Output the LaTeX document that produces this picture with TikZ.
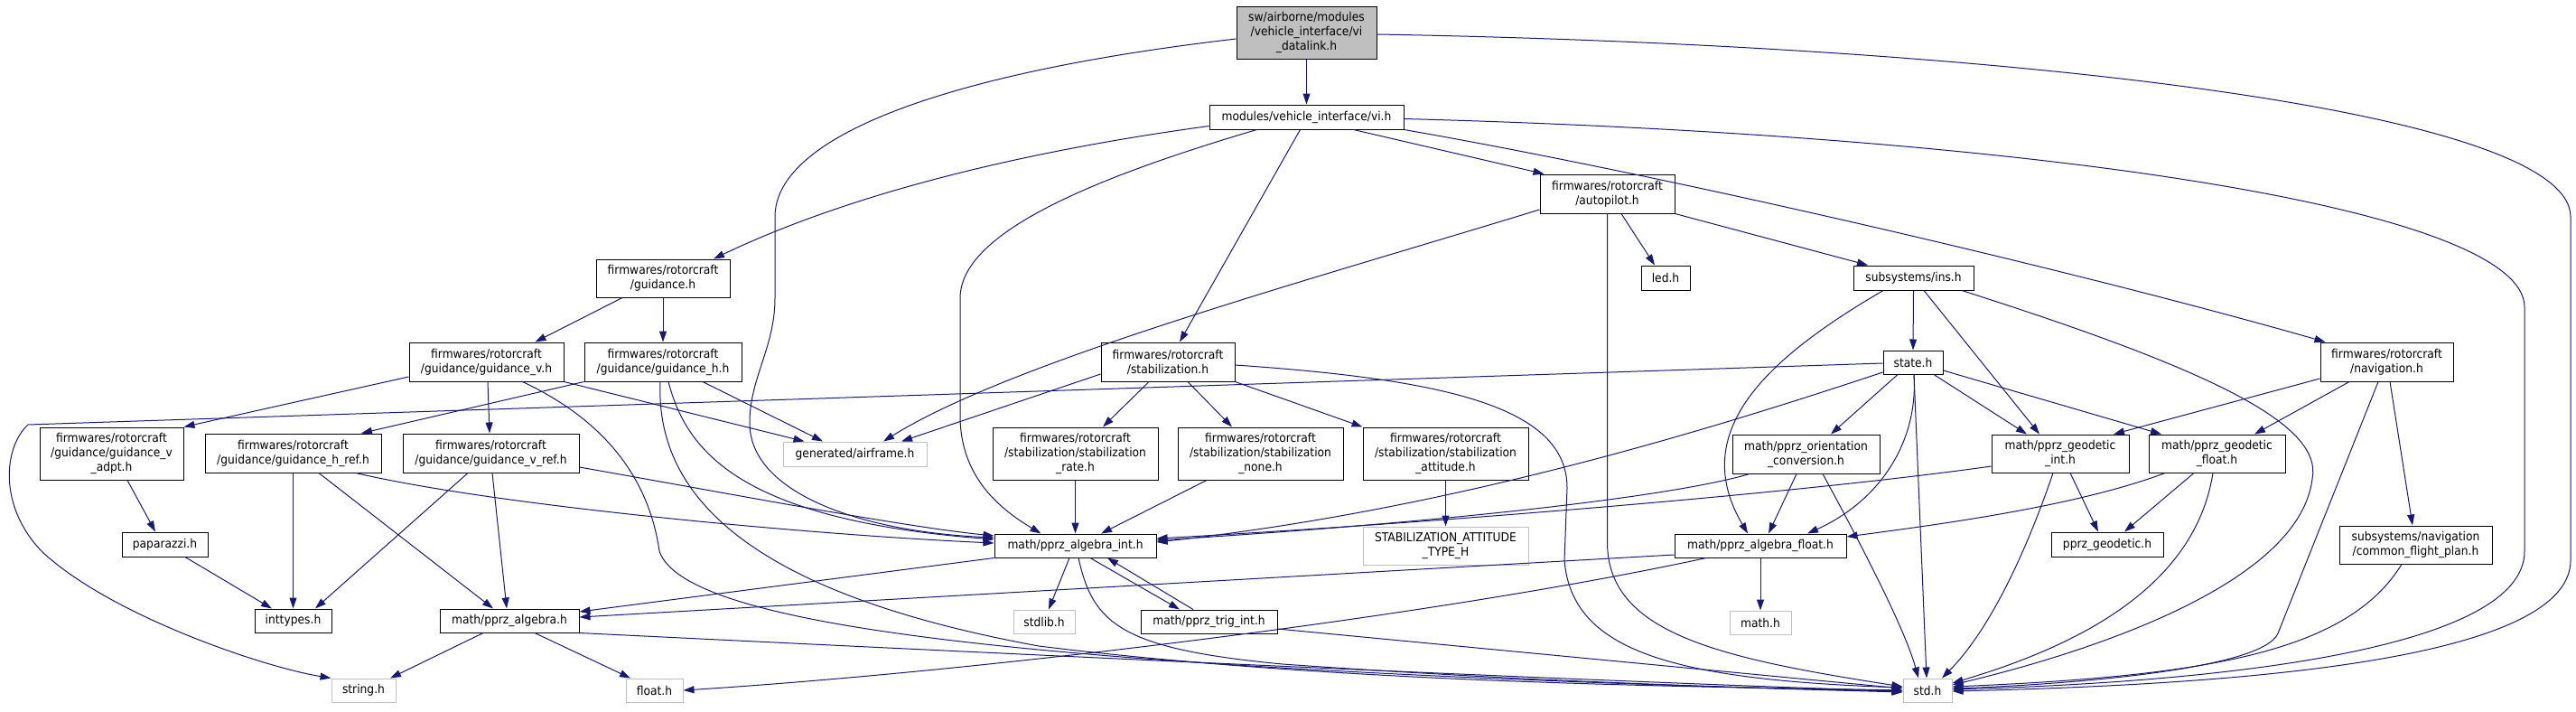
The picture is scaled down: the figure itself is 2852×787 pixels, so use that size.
\documentclass[tikz,border=0pt]{standalone}
\usepackage{fontspec}
\setmainfont{DejaVu Sans}[FakeStretch=0.91]
\usetikzlibrary{arrows.meta}
\definecolor{edgec}{HTML}{191970}
\definecolor{grayb}{HTML}{BFBFBF}
\begin{document}
\begin{tikzpicture}[x=1pt,y=-1pt,
  box/.style={draw=black, line width=1pt, rectangle, inner sep=0pt, align=center, fill=white,
    font=\fontsize{13.5pt}{16pt}\selectfont},
  sysbox/.style={box, draw=grayb},
  edge/.style={draw=edgec, line width=1pt, -{Triangle[length=12pt,width=8pt]}}]
\useasboundingbox (0,0) rectangle (2852,787);
\fill[white] (0,0) rectangle (2852,787);

% nodes
\node[box, fill=grayb, minimum width=155pt, minimum height=58pt] (root) at (1446.5,36) {sw/airborne/modules\\/vehicle\_interface/vi\\\_datalink.h};
\node[box, minimum width=215pt, minimum height=27pt] (vi) at (1446.5,129.5) {modules/vehicle\_interface/vi.h};
\node[box, minimum width=148pt, minimum height=42pt] (guid) at (734,308) {firmwares/rotorcraft\\/guidance.h};
\node[box, minimum width=149pt, minimum height=43pt] (autop) at (1779.5,214.5) {firmwares/rotorcraft\\/autopilot.h};
\node[box, minimum width=54pt, minimum height=27pt] (led) at (1844,307.5) {led.h};
\node[box, minimum width=133pt, minimum height=27pt] (ins) at (2118.5,307.5) {subsystems/ins.h};
\node[box, minimum width=66pt, minimum height=26pt] (state) at (2118,401) {state.h};
\node[box, minimum width=147pt, minimum height=43pt] (nav) at (2642.5,400.5) {firmwares/rotorcraft\\/navigation.h};
\node[box, minimum width=148pt, minimum height=43pt] (stab) at (1293,400.5) {firmwares/rotorcraft\\/stabilization.h};
\node[box, minimum width=171pt, minimum height=43pt] (gv) at (538.5,400.5) {firmwares/rotorcraft\\/guidance/guidance\_v.h};
\node[box, minimum width=174pt, minimum height=43pt] (gh) at (734,400.5) {firmwares/rotorcraft\\/guidance/guidance\_h.h};
\node[sysbox, minimum width=159pt, minimum height=27pt] (airframe) at (946.5,502.5) {generated/airframe.h};
\node[box, minimum width=159pt, minimum height=58pt] (gvadpt) at (123.5,502) {firmwares/rotorcraft\\/guidance/guidance\_v\\\_adpt.h};
\node[box, minimum width=195pt, minimum height=43pt] (ghref) at (324.5,501.5) {firmwares/rotorcraft\\/guidance/guidance\_h\_ref.h};
\node[box, minimum width=195pt, minimum height=43pt] (gvref) at (543.5,501.5) {firmwares/rotorcraft\\/guidance/guidance\_v\_ref.h};
\node[box, minimum width=183pt, minimum height=58pt] (srate) at (1190.5,502) {firmwares/rotorcraft\\/stabilization/stabilization\\\_rate.h};
\node[box, minimum width=183pt, minimum height=58pt] (snone) at (1395.5,502) {firmwares/rotorcraft\\/stabilization/stabilization\\\_none.h};
\node[box, minimum width=183pt, minimum height=58pt] (satt) at (1600.5,502) {firmwares/rotorcraft\\/stabilization/stabilization\\\_attitude.h};
\node[sysbox, minimum width=183pt, minimum height=42pt] (stype) at (1600.5,604) {STABILIZATION\_ATTITUDE\\\_TYPE\_H};
\node[box, minimum width=163pt, minimum height=43pt] (orient) at (1999.5,502.5) {math/pprz\_orientation\\\_conversion.h};
\node[box, minimum width=152pt, minimum height=42pt] (geoint) at (2281,502) {math/pprz\_geodetic\\\_int.h};
\node[box, minimum width=151pt, minimum height=42pt] (geofloat) at (2454.5,502) {math/pprz\_geodetic\\\_float.h};
\node[box, minimum width=95pt, minimum height=27pt] (paparazzi) at (182.5,602.5) {paparazzi.h};
\node[box, minimum width=179pt, minimum height=26pt] (algint) at (1190.5,604) {math/pprz\_algebra\_int.h};
\node[box, minimum width=190pt, minimum height=26pt] (algfloat) at (1949,604) {math/pprz\_algebra\_float.h};
\node[box, minimum width=124pt, minimum height=27pt] (geodetic) at (2333,602.5) {pprz\_geodetic.h};
\node[box, minimum width=169pt, minimum height=42pt] (cfp) at (2674.5,603) {subsystems/navigation\\/common\_flight\_plan.h};
\node[box, minimum width=85pt, minimum height=26pt] (inttypes) at (324.5,687) {inttypes.h};
\node[box, minimum width=154pt, minimum height=26pt] (alg) at (564,687) {math/pprz\_algebra.h};
\node[sysbox, minimum width=68pt, minimum height=26pt] (stdlib) at (1156,688) {stdlib.h};
\node[box, minimum width=151pt, minimum height=26pt] (trig) at (1338.5,688) {math/pprz\_trig\_int.h};
\node[sysbox, minimum width=68pt, minimum height=26pt] (hmath) at (1949,689) {math.h};
\node[sysbox, minimum width=71pt, minimum height=26pt] (hstring) at (402.5,764) {string.h};
\node[sysbox, minimum width=63pt, minimum height=26pt] (hfloat) at (724.5,764) {float.h};
\node[sysbox, minimum width=54pt, minimum height=26pt] (hstd) at (2134,764) {std.h};

% edges from root
\draw[edge] (root.south) -- (vi.north);
\draw[edge] ([yshift=-7pt]root.west) .. controls (1050,80) and (858,150) .. (858,240) -- (858,330) .. controls (858,385) and (829,420) .. (830,470) .. controls (832,545) and (950,588) .. ([yshift=9pt]algint.west);
\draw[edge] ([yshift=-2pt]root.east) .. controls (2200,50) and (2846,120) .. (2846,240) -- (2846,620) .. controls (2846,735) and (2450,758) .. ([yshift=-1pt]hstd.east);

% edges from vi
\draw[edge] ([yshift=-10pt]vi.west) .. controls (1150,165) and (950,210) .. ([xshift=56pt]guid.north);
\draw[edge] ([xshift=-55pt]vi.south) .. controls (1200,200) and (1063,260) .. (1063,330) -- (1063,460) .. controls (1063,530) and (1110,565) .. ([xshift=-38pt]algint.north);
\draw[edge] ([xshift=-7pt]vi.south) -- ([xshift=13pt]stab.north);
\draw[edge] ([xshift=52pt]vi.south) -- ([xshift=-70pt]autop.north);
\draw[edge] (vi.south east) .. controls (1850,195) and (2300,300) .. ([xshift=-68pt]nav.north);
\draw[edge] ([yshift=-2pt]vi.east) .. controls (2250,150) and (2795,230) .. (2795,340) -- (2795,610) .. controls (2795,720) and (2450,755) .. ([yshift=1pt]hstd.east);

% guidance
\draw[edge] ([xshift=-45pt]guid.south) -- ([xshift=54pt]gv.north);
\draw[edge] (guid.south) -- (gh.north);
\draw[edge] ([yshift=-16.5pt]gv.west) -- (gvadpt.north east);
\draw[edge] ([xshift=1.5pt]gv.south) -- ([xshift=-1.5pt]gvref.north);
\draw[edge] (gv.south east) -- ([xshift=-56pt]airframe.north);
\draw[edge] ([xshift=40pt]gv.south) .. controls (680,470) and (720,540) .. (730,610) .. controls (760,700) and (1200,742) .. ([yshift=-2pt]hstd.west);
\draw[edge] (gh.south west) -- ([xshift=75.5pt]ghref.north);
\draw[edge] ([xshift=44pt]gh.south) -- ([xshift=-35.5pt]airframe.north);
\draw[edge] ([xshift=6pt]gh.south) .. controls (760,500) and (820,575) .. ([yshift=7pt]algint.west);
\draw[edge] ([xshift=-3pt]gh.south) .. controls (725,560) and (850,660) .. (1150,715) .. controls (1500,758) and (1900,760) .. (hstd.west);
\draw[edge] ([xshift=17.5pt]gvadpt.south) -- ([xshift=-10.5pt]paparazzi.north);
\draw[edge] ([xshift=22.5pt]paparazzi.south) -- ([xshift=-23.5pt]inttypes.north);
\draw[edge] (ghref.south) -- (inttypes.north);
\draw[edge] ([xshift=28.5pt]ghref.south) -- ([xshift=-18pt]alg.north);
\draw[edge] ([xshift=69.5pt]ghref.south) .. controls (550,560) and (900,592) .. ([yshift=3pt]algint.west);
\draw[edge] ([xshift=-25.5pt]gvref.south) -- ([xshift=24.5pt]inttypes.north);
\draw[edge] ([xshift=1.5pt]gvref.south) -- ([xshift=-3pt]alg.north);
\draw[edge] ([yshift=-15.5pt]gvref.east) .. controls (800,545) and (1000,583) .. ([yshift=11pt]algint.west);

% state
\draw[edge] ([yshift=-1pt]state.west) -- (31,470) .. controls (4,495) and (-2,560) .. (46,610) .. controls (120,680) and (290,738) .. (hstring.north west);
\draw[edge] ([yshift=-11pt]state.west) .. controls (1880,480) and (1600,565) .. ([yshift=4pt]algint.east);
\draw[edge] ([xshift=-17pt]state.south) -- ([xshift=27.5pt]orient.north);
\draw[edge] ([xshift=1pt]state.south) .. controls (2124,490) and (2080,555) .. ([xshift=52pt]algfloat.north);
\draw[edge] ([xshift=23pt]state.south) -- ([xshift=-37pt]geoint.north);
\draw[edge] ([yshift=-9pt]state.east) -- ([xshift=-61.5pt]geofloat.north);
\draw[edge] ([xshift=1pt]state.south) -- ([xshift=-1pt]hstd.north);

% ins
\draw[edge] (ins.south) -- (state.north);
\draw[edge] ([xshift=-33.5pt]ins.south) .. controls (1950,400) and (1870,480) .. ([xshift=-14pt]algfloat.north);
\draw[edge] ([xshift=11.5pt]ins.south) -- ([xshift=-23pt]geoint.north);
\draw[edge] ([xshift=53.5pt]ins.south) .. controls (2450,410) and (2572,470) .. (2560,530) .. controls (2545,650) and (2300,725) .. ([yshift=6pt]hstd.east);

% autopilot
\draw[edge] ([yshift=-17.5pt]autop.west) .. controls (1450,310) and (1120,400) .. ([xshift=31.5pt]airframe.north);
\draw[edge] ([xshift=15.5pt]autop.south) -- ([xshift=-12pt]led.north);
\draw[edge] (autop.south east) -- ([xshift=-50.5pt]ins.north);
\draw[edge] (autop.south) -- (1779.5,600) .. controls (1779.5,700) and (1900,728) .. ([yshift=4pt]hstd.west);

% stabilization
\draw[edge] ([yshift=-13.5pt]stab.west) -- ([xshift=51.5pt]airframe.north);
\draw[edge] ([xshift=-21pt]stab.south) -- ([xshift=30.5pt]srate.north);
\draw[edge] ([xshift=22pt]stab.south) -- ([xshift=-31.5pt]snone.north);
\draw[edge] (stab.south east) -- (satt.north west);
\draw[edge] ([yshift=-3.5pt]stab.east) .. controls (1600,420) and (1735,450) .. (1735,540) -- (1732,620) .. controls (1740,720) and (1850,752) .. ([yshift=3pt]hstd.west);
\draw[edge] (srate.south) -- (algint.north);
\draw[edge] ([xshift=-59.5pt]snone.south) -- ([xshift=28.5pt]algint.north);
\draw[edge] (satt.south) -- (stype.north);

% navigation
\draw[edge] ([yshift=-18.5pt]nav.west) -- ([xshift=59pt]geoint.north);
\draw[edge] ([xshift=-41.5pt]nav.south) -- ([xshift=41.5pt]geofloat.north);
\draw[edge] ([xshift=3.5pt]nav.south) -- ([xshift=-3.5pt]cfp.north);
\draw[edge] ([xshift=-9.5pt]nav.south) -- (2522,701) .. controls (2505,740) and (2300,757) .. ([yshift=2pt]hstd.east);

% orientation
\draw[edge] ([xshift=-62.5pt]orient.south) .. controls (1850,550) and (1600,578) .. ([yshift=6pt]algint.east);
\draw[edge] ([xshift=-10.5pt]orient.south) -- ([xshift=9pt]algfloat.north);
\draw[edge] ([xshift=18.5pt]orient.south) .. controls (2070,620) and (2110,700) .. ([xshift=-10pt]hstd.north);

% geodetic
\draw[edge] ([yshift=-14pt]geoint.west) .. controls (2000,545) and (1600,578) .. ([yshift=8pt]algint.east);
\draw[edge] ([xshift=11pt]geoint.south) -- ([xshift=-10pt]geodetic.north);
\draw[edge] ([xshift=-8pt]geoint.south) .. controls (2240,620) and (2200,700) .. ([xshift=16pt]hstd.north);
\draw[edge] ([xshift=-57.5pt]geofloat.south) .. controls (2300,560) and (2150,580) .. ([yshift=10pt]algfloat.east);
\draw[edge] ([xshift=-25.5pt]geofloat.south) -- ([xshift=19pt]geodetic.north);
\draw[edge] ([xshift=-4.5pt]geofloat.south) .. controls (2430,650) and (2300,715) .. ([yshift=8pt]hstd.east);
\draw[edge] ([xshift=-15.5pt]cfp.south) .. controls (2600,720) and (2450,748) .. ([yshift=4pt]hstd.east);

% algebra
\draw[edge] (algint.south west) -- ([yshift=10pt]alg.east);
\draw[edge] ([xshift=-6.5pt]algint.south) -- ([xshift=5pt]stdlib.north);
\draw[edge] ([xshift=16.5pt]algint.south) -- ([xshift=-32.5pt]trig.north);
\draw[edge] ([xshift=-17.5pt]trig.north) -- ([xshift=35.5pt]algint.south);
\draw[edge] ([xshift=3.5pt]algint.south) .. controls (1210,690) and (1240,718) .. (1420,735) .. controls (1700,755) and (1950,762) .. ([yshift=-1pt]hstd.west);
\draw[edge] ([yshift=-8pt]trig.east) -- ([yshift=2pt]hstd.west);
\draw[edge] ([yshift=-10pt]algfloat.west) -- ([yshift=4pt]alg.east);
\draw[edge] ([xshift=-60pt]algfloat.south) .. controls (1600,680) and (1100,742) .. (hfloat.east);
\draw[edge] (algfloat.south) -- (hmath.north);
\draw[edge] ([xshift=-29pt]alg.south) -- ([xshift=29.5pt]hstring.north);
\draw[edge] ([xshift=28pt]alg.south) -- ([xshift=-26.5pt]hfloat.north);
\draw[edge] (alg.south east) .. controls (1000,718) and (1700,752) .. ([yshift=-1pt]hstd.west);
\end{tikzpicture}
\end{document}
